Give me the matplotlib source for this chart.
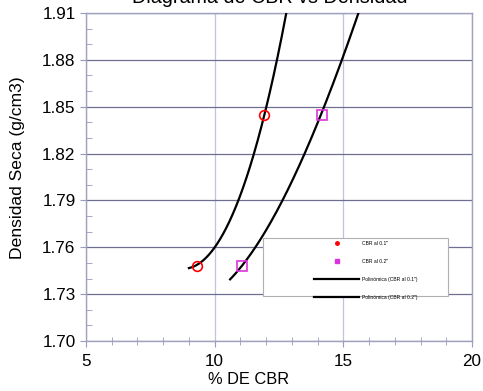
import matplotlib.pyplot as plt
import numpy as np
from matplotlib.lines import Line2D
from matplotlib.patches import Rectangle
from matplotlib.ticker import MultipleLocator

plt.rcParams['font.family'] = ['Liberation Sans', 'DejaVu Sans']

# measured points
cbr_01 = [9.30, 11.92]
den_01 = [1.748, 1.845]
cbr_02 = [11.06, 14.17]
den_02 = [1.748, 1.845]

# points read along the trendlines
trend1_x = [9.00, 9.30, 9.69, 9.99, 10.95, 11.50, 12.00, 12.45, 12.77]
trend1_y = [1.747, 1.748, 1.754, 1.760, 1.790, 1.820, 1.850, 1.880, 1.910]
trend2_x = [10.60, 11.06, 11.57, 12.64, 13.51, 14.22, 14.97, 15.58]
trend2_y = [1.7395, 1.748, 1.760, 1.790, 1.820, 1.850, 1.880, 1.910]

fig = plt.figure(figsize=(4.83, 3.91), dpi=100)
ax = fig.add_axes([86/483, 1-341/391, 386/483, 328/391])

# polynomial trendlines
p1 = np.polyfit(trend1_x, trend1_y, 3)
xs1 = np.linspace(trend1_x[0], 12.9, 200)
ax.plot(xs1, np.polyval(p1, xs1), color='black', lw=1.6, zorder=3)
p2 = np.polyfit(trend2_x, trend2_y, 3)
xs2 = np.linspace(trend2_x[0], 15.8, 200)
ax.plot(xs2, np.polyval(p2, xs2), color='black', lw=1.6, zorder=3)

ax.plot(cbr_01, den_01, 'o', ms=7, mfc='none', mec='#ff0000', mew=1.2, zorder=4)
ax.plot(cbr_02, den_02, 's', ms=7, mfc='none', mec='#dd33dd', mew=1.2, zorder=4)

ax.set_xlim(5, 20)
ax.set_ylim(1.70, 1.91)
ax.set_xticks([5, 10, 15, 20])
ax.set_yticks([1.70, 1.73, 1.76, 1.79, 1.82, 1.85, 1.88, 1.91])
ax.set_yticklabels(['1.70', '1.73', '1.76', '1.79', '1.82', '1.85', '1.88', '1.91'])
ax.xaxis.set_minor_locator(MultipleLocator(1))
ax.yaxis.set_minor_locator(MultipleLocator(0.01))
ax.tick_params(axis='both', which='major', labelsize=12.3, color='#9a9abb', length=4)
ax.tick_params(axis='x', which='major', pad=5)
ax.tick_params(axis='x', which='minor', direction='inout', length=6, color='#9a9abb')
ax.tick_params(axis='y', which='minor', direction='in', length=4, color='#9a9abb')

ax.grid(axis='y', which='major', color='#6e6e92', lw=0.9)
ax.grid(axis='x', which='major', color='#c2c2d8', lw=0.9)
for s in ax.spines.values():
    s.set_color('#a0a0c0')
    s.set_linewidth(1.0)

ax.set_xlabel('% DE CBR', fontsize=11.8, labelpad=4)
ax.xaxis.set_label_coords((249-86)/386, -0.095)
ax.set_ylabel('Densidad Seca (g/cm3)', fontsize=12.6)
ax.yaxis.set_label_coords(-(86-25)/386, (341-168)/328)

fig.text(270/483, 1-3/391, 'Diagrama de CBR vs Densidad', ha='center',
         va='baseline', fontsize=14.2)

# legend
ax.add_patch(Rectangle((263/483, 1-296/391), 185/483, 58/391, transform=fig.transFigure,
                       facecolor='white', edgecolor='#b0b0b0', lw=0.8, zorder=5))
handles = [
    Line2D([], [], ls='none', marker='o', ms=2.5, color='#ff0000'),
    Line2D([], [], ls='none', marker='s', ms=2.5, color='#dd33dd'),
    Line2D([], [], color='black', lw=1.6),
    Line2D([], [], color='black', lw=1.6),
]
labels = ['CBR al 0.1"', 'CBR al 0.2"', 'Polinómica (CBR al 0.1")', 'Polinómica (CBR al 0.2")']
leg = ax.legend(handles, labels, loc='upper left', bbox_to_anchor=(309/483, 1-236/391),
                bbox_transform=fig.transFigure, frameon=False, fontsize=3.6,
                handlelength=9, handletextpad=0.6, labelspacing=2.6, borderpad=0.5)
leg.set_zorder(6)

fig.savefig('out.png', dpi=100)
